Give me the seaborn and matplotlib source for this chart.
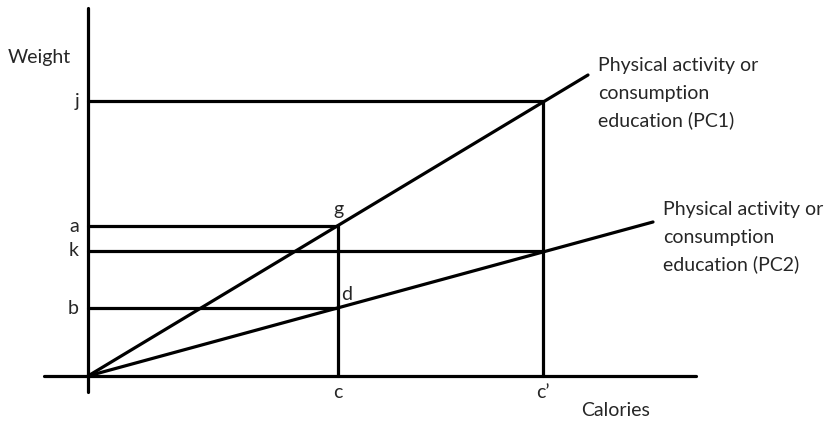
import pandas as pd
import numpy as np
import seaborn as sns
import matplotlib.pyplot as plt

# Valores del diagrama (unidades arbitrarias de calorías / peso)
calorias = {"c": 250, "c\u2019": 455}
peso = {"j": 275, "a": 150, "k": 125, "b": 68}
pendiente_pc1 = 0.602
pendiente_pc2 = 0.2726
fin_pc1 = 500
fin_pc2 = 565
eje_x = [-44, 608]
eje_y = [-16, 368]
texto_pc1 = ["Physical activity or", "consumption", "education (PC1)"]
texto_pc2 = ["Physical activity or", "consumption", "education (PC2)"]

sns.set_style("white")
plt.rcParams['font.family'] = ['Lato', 'DejaVu Sans']

# Segmentos del diagrama
segmentos = []
def agregar(nombre, xs, ys):
    for x, y in zip(xs, ys):
        segmentos.append({"seg": nombre, "x": x, "y": y})

c1, c2 = calorias["c"], calorias["c\u2019"]
agregar("eje_x", eje_x, [0, 0])
agregar("eje_y", [0, 0], eje_y)
agregar("PC1", [0, fin_pc1], [0, pendiente_pc1 * fin_pc1])
agregar("PC2", [0, fin_pc2], [0, pendiente_pc2 * fin_pc2])
agregar("j", [0, c2], [peso["j"], peso["j"]])
agregar("a", [0, c1], [peso["a"], peso["a"]])
agregar("k", [0, c2], [peso["k"], peso["k"]])
agregar("b", [0, c1], [peso["b"], peso["b"]])
agregar("vc", [c1, c1], [0, peso["a"]])
agregar("vc2", [c2, c2], [0, peso["j"]])
df = pd.DataFrame(segmentos)

fig = plt.figure(figsize=(8.28, 4.22), dpi=100)
ax = fig.add_axes([0, 0, 1, 1])
sns.lineplot(data=df, x="x", y="y", units="seg", estimator=None, sort=False,
             color="black", linewidth=2.3, ax=ax)
ax.set_xlim(-88, 740)
ax.set_ylim(-46, 376)
ax.axis("off")

fs = 14
# Etiquetas del eje y
for nombre, val in peso.items():
    ax.text(-9, val, nombre, ha="right", va="center", fontsize=fs)
# Etiquetas del eje x
for nombre, val in calorias.items():
    ax.text(val, -17, nombre, ha="center", va="center", fontsize=fs)

ax.text(c1, peso["a"] + 17, "g", ha="center", va="center", fontsize=fs)
ax.text(c1 + 3, peso["b"] + 14, "d", ha="left", va="center", fontsize=fs)
ax.text(-80, 318, "Weight", ha="left", va="center", fontsize=fs)
ax.text(528, -34, "Calories", ha="center", va="center", fontsize=fs)
for i, linea in enumerate(texto_pc1):
    ax.text(510, 310 - 27 * i, linea, ha="left", va="center", fontsize=fs)
for i, linea in enumerate(texto_pc2):
    ax.text(575, 166 - 27 * i, linea, ha="left", va="center", fontsize=fs)

fig.savefig("out.png", dpi=100)
